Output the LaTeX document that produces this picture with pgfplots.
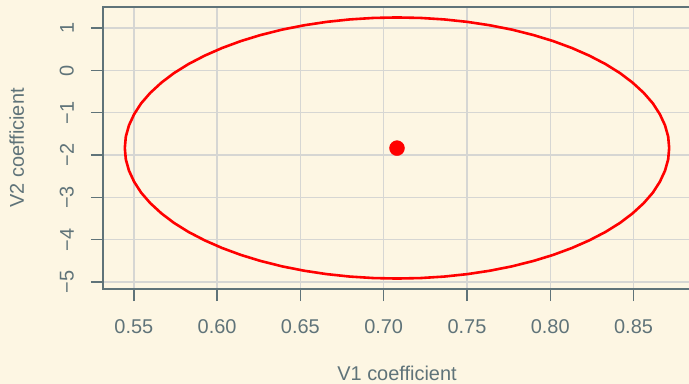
\documentclass[border=0pt]{standalone}
\usepackage{fontspec}
\setmainfont{Liberation Sans}
\usepackage{pgfplots}
\pgfplotsset{compat=1.18}
\definecolor{bg}{HTML}{FDF6E3}
\definecolor{axc}{HTML}{5F7379}
\definecolor{gridc}{HTML}{D6D6D3}
\begin{document}
\begin{tikzpicture}
\clip (-103bp,-95bp) rectangle (586bp,289bp);
\fill[bg] (-103bp,-95bp) rectangle (586bp,289bp);
\begin{axis}[
  at={(0,0)}, anchor=south west,
  scale only axis,
  width=588bp, height=282bp,
  xmin=0.5315, xmax=0.8845,
  ymin=-5.164, ymax=1.50,
  axis background/.style={fill=bg},
  axis line style={draw=axc, line width=1.7bp},
  every tick/.style={draw=axc, line width=1.4bp},
  tick align=outside,
  major tick length=12bp,
  xtick pos=bottom, ytick pos=left,
  xtick={0.55,0.60,0.65,0.70,0.75,0.80,0.85},
  xticklabels={0.55,0.60,0.65,0.70,0.75,0.80,0.85},
  ytick={-5,-4,-3,-2,-1,0,1},
  yticklabels={−5,−4,−3,−2,−1,0,1},
  grid=major,
  major grid style={draw=gridc, line width=1.4bp},
  font=\fontsize{20}{24}\selectfont,
  tick label style={text=axc, font=\fontsize{20}{24}\selectfont},
  xticklabel style={anchor=north, inner sep=0pt, yshift=-18bp},
  yticklabel style={xshift=-17bp, rotate=90, anchor=south, inner sep=0pt},
  xlabel={V1 coefficient},
  ylabel={V2 coefficient},
  xlabel style={at={(axis description cs:0.5,-0.3255)}, anchor=base, inner sep=0pt, text=axc},
  ylabel style={at={(axis description cs:-0.1344,0.5)}, anchor=base, rotate=0, inner sep=0pt, text=axc},
  clip=false,
]
\addplot[red, line width=2.6bp, line join=round] coordinates {
(0.8714,-1.832) (0.8708,-1.5631) (0.8689,-1.2963) (0.8658,-1.0335)
(0.8616,-0.7769) (0.8561,-0.5282) (0.8495,-0.2895) (0.8419,-0.0625)
(0.8332,0.1510) (0.8235,0.3494) (0.8130,0.5311) (0.8017,0.6951)
(0.7897,0.8397) (0.7771,0.9640) (0.7639,1.0670) (0.7503,1.1479)
(0.7364,1.2061) (0.7222,1.2413) (0.7080,1.2530)
(0.6938,1.2413) (0.6796,1.2061) (0.6657,1.1479) (0.6521,1.0670)
(0.6389,0.9640) (0.6263,0.8397) (0.6143,0.6951) (0.6030,0.5311)
(0.5925,0.3494) (0.5828,0.1510) (0.5741,-0.0625) (0.5665,-0.2895)
(0.5599,-0.5282) (0.5544,-0.7769) (0.5502,-1.0335) (0.5471,-1.2963)
(0.5452,-1.5631) (0.5446,-1.832)
(0.5452,-2.1009) (0.5471,-2.3677) (0.5502,-2.6305) (0.5544,-2.8871)
(0.5599,-3.1358) (0.5665,-3.3745) (0.5741,-3.6015) (0.5828,-3.8150)
(0.5925,-4.0134) (0.6030,-4.1951) (0.6143,-4.3591) (0.6263,-4.5037)
(0.6389,-4.6280) (0.6521,-4.7310) (0.6657,-4.8119) (0.6796,-4.8701)
(0.6938,-4.9053) (0.7080,-4.9170)
(0.7222,-4.9053) (0.7364,-4.8701) (0.7503,-4.8119) (0.7639,-4.7310)
(0.7771,-4.6280) (0.7897,-4.5037) (0.8017,-4.3591) (0.8130,-4.1951)
(0.8235,-4.0134) (0.8332,-3.8150) (0.8419,-3.6015) (0.8495,-3.3745)
(0.8561,-3.1358) (0.8616,-2.8871) (0.8658,-2.6305) (0.8689,-2.3677)
(0.8708,-2.1009) (0.8714,-1.832)
};
\addplot[only marks, mark=*, mark size=7.5bp, red, mark options={draw=red, fill=red}] coordinates {(0.708,-1.835)};
\end{axis}
\end{tikzpicture}
\end{document}
